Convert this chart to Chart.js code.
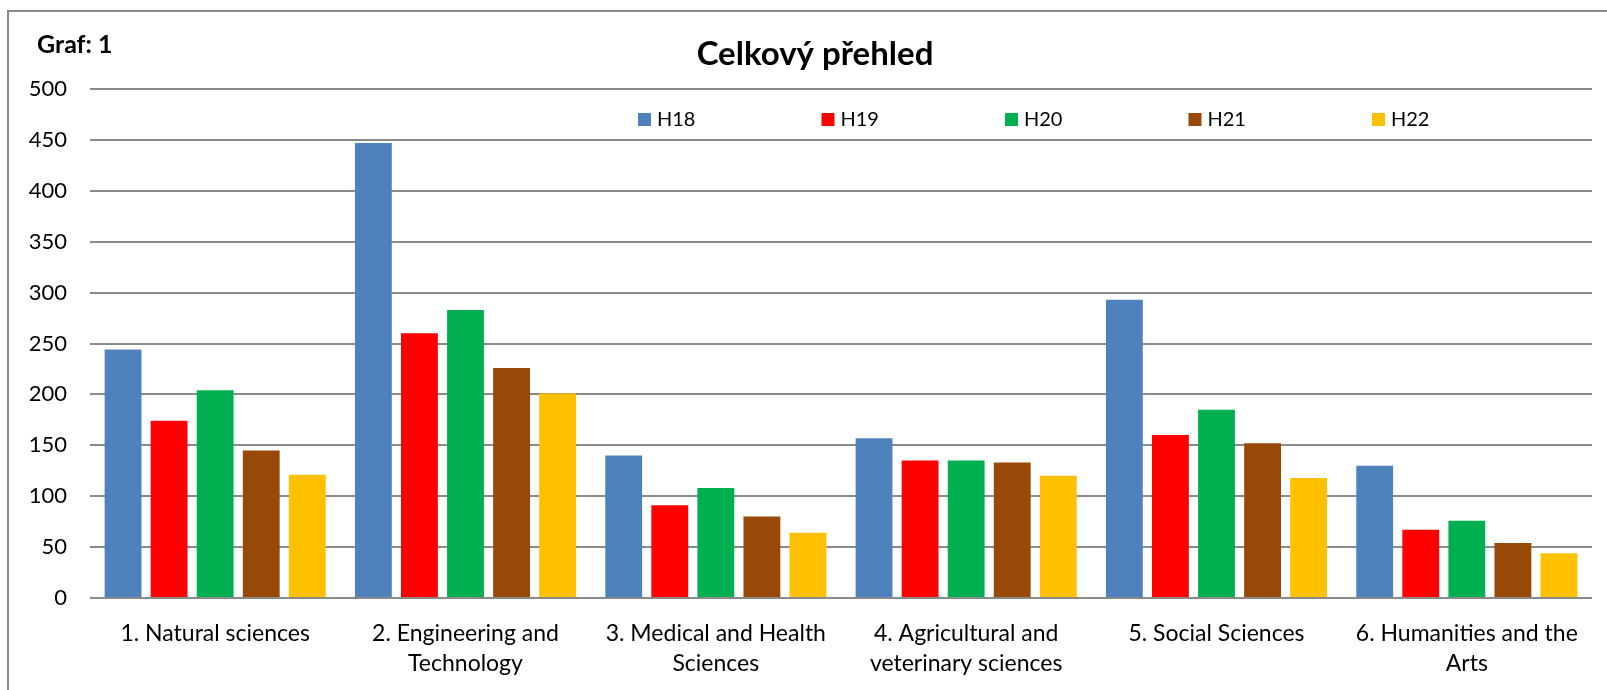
<!DOCTYPE html>
<html>
<head>
<meta charset="utf-8">
<script src="https://cdn.jsdelivr.net/npm/chart.js@4"></script>
<style>
  body { margin: 0; background: #fff; }
</style>
</head>
<body>
<canvas id="diagram" width="1607" height="690"></canvas>
<script>
// chart data
var categories = [
  '1. Natural sciences',
  ['2. Engineering and', 'Technology'],
  ['3. Medical and Health', 'Sciences'],
  ['4. Agricultural and', 'veterinary sciences'],
  '5. Social Sciences',
  ['6. Humanities and the', 'Arts']
];
var seriesNames = ['H18', 'H19', 'H20', 'H21', 'H22'];
var h18 = [244, 447, 140, 157, 293, 130];
var h19 = [174, 260, 91, 135, 160, 67];
var h20 = [204, 283, 108, 135, 185, 76];
var h21 = [145, 226, 80, 133, 152, 54];
var h22 = [121, 201, 64, 120, 118, 44];
var colors = ['#4F81BD', '#FF0000', '#00B050', '#984807', '#FFC000'];
var chartTitle = 'Celkový přehled';

var FONT = 'Lato';
var values = [h18, h19, h20, h21, h22];

var datasets = seriesNames.map(function (name, i) {
  return {
    label: name,
    data: values[i],
    backgroundColor: colors[i],
    borderWidth: 0
  };
});

// frame, titles and the legend inside the plot area
var extras = {
  id: 'extras',
  beforeDraw: function (chart) {
    var ctx = chart.ctx;
    ctx.save();
    ctx.fillStyle = '#fff';
    ctx.fillRect(0, 0, chart.width, chart.height);
    ctx.strokeStyle = '#8a8a8a';
    ctx.lineWidth = 2;
    ctx.strokeRect(8, 11, chart.width + 50, chart.height + 50);
    ctx.restore();
  },
  afterDraw: function (chart) {
    var ctx = chart.ctx;
    ctx.save();
    ctx.fillStyle = '#000';
    ctx.textBaseline = 'middle';
    ctx.font = 'bold 25px ' + FONT;
    ctx.fillText('Graf: 1', 37, 45);

    ctx.font = 'bold 33px ' + FONT;
    ctx.textAlign = 'center';
    ctx.fillText(chartTitle, 815, 54);
    ctx.textAlign = 'left';

    ctx.font = '20px ' + FONT;
    chart.data.datasets.forEach(function (ds, i) {
      var x = 638 + i * 183.5;
      ctx.fillStyle = ds.backgroundColor;
      ctx.fillRect(x, 113, 13, 13);
      ctx.fillStyle = '#000';
      ctx.fillText(ds.label, x + 19, 120);
    });
    ctx.restore();
  }
};

var ctx = document.getElementById('diagram').getContext('2d');
var diagram = new Chart(ctx, {
  type: 'bar',
  data: {
    labels: categories,
    datasets: datasets
  },
  plugins: [extras],
  options: {
    responsive: false,
    animation: false,
    categoryPercentage: 0.92,
    barPercentage: 0.8,
    layout: { padding: { left: 0, right: 15, top: 89, bottom: 0 } },
    plugins: {
      legend: { display: false },
      tooltip: { enabled: false },
      title: { display: false }
    },
    scales: {
      x: {
        grid: { display: false },
        border: { display: false },
        ticks: {
          color: '#000',
          font: { family: FONT, size: 23, lineHeight: 1.3 },
          maxRotation: 0,
          autoSkip: false,
          padding: 13
        },
        afterFit: function (s) { s.height = 92; }
      },
      y: {
        min: 0,
        max: 500,
        border: { display: false },
        grid: { color: '#8a8a8a', lineWidth: 2, drawTicks: false },
        ticks: {
          stepSize: 50,
          color: '#000',
          font: { family: FONT, size: 22 },
          padding: 23
        },
        afterFit: function (s) { s.width = 90; }
      }
    }
  }
});
</script>
</body>
</html>
